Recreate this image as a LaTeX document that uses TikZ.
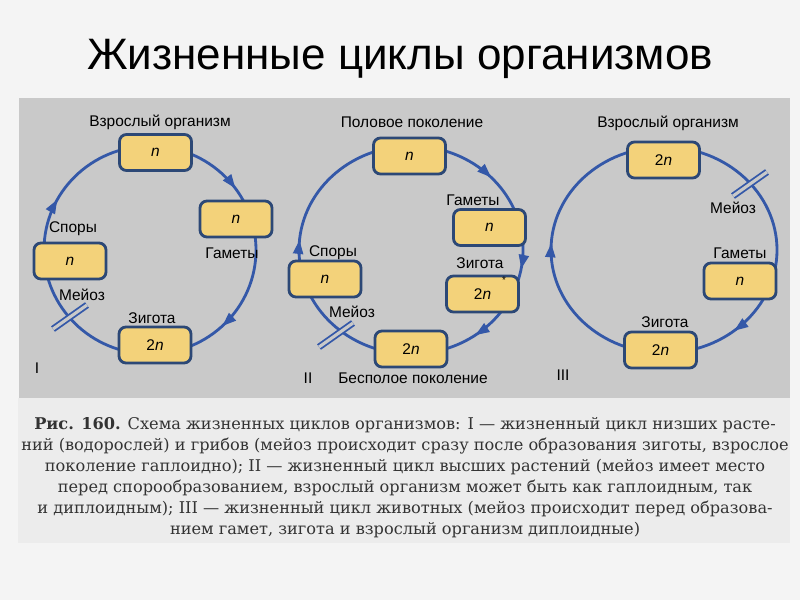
\documentclass[tikz,border=0pt]{standalone}
\usepackage{fontspec}
\setmainfont{DejaVu Serif}
\setsansfont{Liberation Sans}
\usepackage{tikz}
\usetikzlibrary{decorations.markings,arrows.meta}

\definecolor{pagebg}{RGB}{244,244,244}
\definecolor{panelbg}{RGB}{201,201,201}
\definecolor{capbg}{RGB}{236,236,236}
\definecolor{cycblue}{RGB}{52,88,168}
\definecolor{boxline}{RGB}{44,72,118}
\definecolor{boxfill}{RGB}{243,210,122}

\begin{document}
\begin{tikzpicture}[x=0.025cm,y=0.025cm,
  stage/.style={draw=boxline,line width=2pt,fill=boxfill,rounded corners=5pt,
    minimum width=1.8cm,minimum height=0.9cm,font=\sffamily\itshape\fontsize{11}{13}\selectfont},
  lbl/.style={font=\sffamily\fontsize{11}{13}\selectfont,inner sep=1pt},
  cyc/.style={draw=cycblue,line width=2pt,postaction=decorate},
  meio/.style={draw=cycblue,line width=1.3pt,double=panelbg,double distance=2.2pt},
  cyctip/.tip={Triangle[length=10pt,width=7pt]}
]
% The page
\useasboundingbox (0,0) rectangle (800,600);
\fill[pagebg] (0,0) rectangle (800,600);
\fill[panelbg] (19,202) rectangle (790,502);
\fill[capbg] (18,57) rectangle (790,202);

% The title
\node[font=\sffamily\fontsize{31.3}{37}\selectfont] (title) at (400,541) {Жизненные циклы организмов};

% Cycle I
\draw[cyc,decoration={markings,
  mark=at position 0.13 with {\arrow{cyctip}},
  mark=at position 0.58 with {\arrow{cyctip}},
  mark=at position 0.9 with {\arrow{cyctip}}}]
  (256,350) arc[start angle=360,end angle=0,x radius=106,y radius=104];
\node[stage] (a1) at (155.5,447.5) {n};
\node[stage] (g1) at (236,381) {n};
\node[stage] (s1) at (70,339) {n};
\node[stage] (z1) at (155,255) {{\upshape 2}n};
\draw[meio] (53,271) -- (87,295);
\node[lbl] (la1) at (160,478) {Взрослый организм};
\node[lbl] (lg1) at (232,347) {Гаметы};
\node[lbl] (ls1) at (73,371) {Споры};
\node[lbl] (lm1) at (82,305) {Мейоз};
\node[lbl] (lz1) at (152,282) {Зигота};
\node[lbl] (n1) at (37,232) {I};

% Cycle II
\draw[cyc,decoration={markings,
  mark=at position 0.028 with {\arrow{cyctip}},
  mark=at position 0.15 with {\arrow{cyctip}},
  mark=at position 0.515 with {\arrow{cyctip}},
  mark=at position 0.88 with {\arrow{cyctip}}}]
  (523,350) arc[start angle=360,end angle=0,x radius=112,y radius=104];
\node[stage] (a2) at (409.5,444) {n};
\node[stage] (g2) at (489.5,372.5) {n};
\node[stage] (z2) at (482.5,306) {{\upshape 2}n};
\node[stage] (b2) at (411,251) {{\upshape 2}n};
\node[stage] (s2) at (325,321) {n};
\node[lbl,font=\sffamily\scriptsize] (ast) at (504,320) {*};
\draw[meio] (319,253) -- (353,277);
\node[lbl] (la2) at (412,478) {Половое поколение};
\node[lbl] (lg2) at (473,400) {Гаметы};
\node[lbl] (lz2) at (480,337) {Зигота};
\node[lbl] (ls2) at (333,347) {Споры};
\node[lbl] (lm2) at (352,288) {Мейоз};
\node[lbl] (lb2) at (413,222) {Бесполое поколение};
\node[lbl] (n2) at (308,222) {II};

% Cycle III
\draw[cyc,decoration={markings,
  mark=at position 0.14 with {\arrow{cyctip}},
  mark=at position 0.51 with {\arrow{cyctip}}}]
  (777,350) arc[start angle=360,end angle=0,x radius=113,y radius=103];
\node[stage] (a3) at (663.5,440) {{\upshape 2}n};
\node[stage] (g3) at (740,319) {n};
\node[stage] (z3) at (660.5,250) {{\upshape 2}n};
\draw[meio] (733,404) -- (767,428);
\node[lbl] (la3) at (668,477) {Взрослый организм};
\node[lbl] (lm3) at (733,392) {Мейоз};
\node[lbl] (lg3) at (740,347) {Гаметы};
\node[lbl] (lz3) at (665,278) {Зигота};
\node[lbl] (n3) at (563,225) {III};

% The caption
\node[font=\fontsize{11.5}{14.9}\selectfont,align=center,text=black!80] (cap) at (405,122)
  {\textbf{Рис. 160.} Схема жизненных циклов организмов: I — жизненный цикл низших расте-\\
   ний (водорослей) и грибов (мейоз происходит сразу после образования зиготы, взрослое\\
   поколение гаплоидно); II — жизненный цикл высших растений (мейоз имеет место\\
   перед спорообразованием, взрослый организм может быть как гаплоидным, так\\
   и диплоидным); III — жизненный цикл животных (мейоз происходит перед образова-\\
   нием гамет, зигота и взрослый организм диплоидные)};
\end{tikzpicture}
\end{document}
